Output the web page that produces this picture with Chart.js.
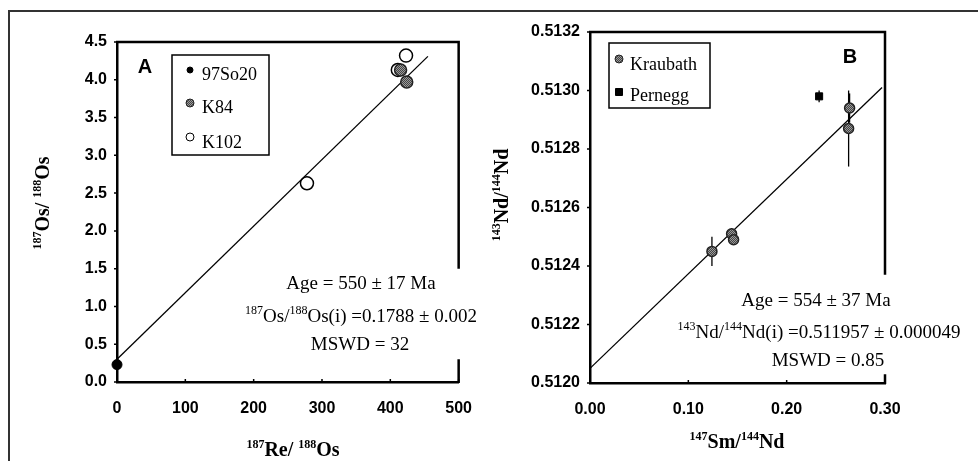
<!DOCTYPE html>
<html>
<head>
<meta charset="utf-8">
<script src="https://cdn.jsdelivr.net/npm/chart.js@4.4.1/dist/chart.umd.min.js"></script>
<style>
  html, body { margin: 0; padding: 0; background: #fff; }
  #wrap { position: relative; width: 978px; height: 461px; overflow: hidden; }
  #frame { position: absolute; left: 8px; top: 10px; width: 1000px; height: 500px;
           border-left: 2px solid #333; border-top: 2px solid #333; }
  #ca { position: absolute; left: 0; top: 0; }
  #cb { position: absolute; left: 489px; top: 0; }
</style>
</head>
<body>
<div id="wrap">
  <div id="frame"></div>
  <canvas id="ca" width="489" height="461"></canvas>
  <canvas id="cb" width="489" height="461"></canvas>
</div>
<script>
// ---- panel A : Re-Os ----
var so20X = [0];
var so20Y = [0.23];
var k84X = [415, 424];
var k84Y = [4.13, 3.97];
var k102X = [278, 411, 423];
var k102Y = [2.63, 4.13, 4.32];
var fitAX = [0, 455];
var fitAY = [0.30, 4.31];
var ticksAX = [0, 100, 200, 300, 400, 500];
var ticksAY = [0, 0.5, 1, 1.5, 2, 2.5, 3, 3.5, 4, 4.5];

// ---- panel B : Sm-Nd ----
var kraubathX = [0.124, 0.144, 0.146, 0.264, 0.263];
var kraubathY = [0.51245, 0.51251, 0.51249, 0.51294, 0.51287];
var kraubathErr = [0.00005, 0.00002, 0.00001, 0.00005, 0.00013];
var perneggX = [0.233];
var perneggY = [0.51298];
var perneggErr = [0.00002];
var fitBX = [0, 0.297];
var fitBY = [0.51205, 0.51301];
var ticksBX = [0, 0.1, 0.2, 0.3];
var ticksBY = [0.512, 0.5122, 0.5124, 0.5126, 0.5128, 0.513, 0.5132];

var SERIF = '"Liberation Serif", "Times New Roman", serif';
var SANS = '"Liberation Sans", Arial, sans-serif';

function pts(xs, ys) {
  return xs.map(function (x, i) { return { x: x, y: ys[i] }; });
}

function hatch(ctx) {
  var c = document.createElement('canvas');
  c.width = 2; c.height = 2;
  var g = c.getContext('2d');
  g.fillStyle = '#9a9a9a'; g.fillRect(0, 0, 2, 2);
  g.fillStyle = '#444'; g.fillRect(0, 0, 1, 1); g.fillRect(1, 1, 1, 1);
  return ctx.createPattern(c, 'repeat');
}

// parts beginning with '^' are superscripts
function richText(ctx, parts, x, y, size, weight, align) {
  var widths = parts.map(function (p) {
    var sup = p.charAt(0) === '^';
    ctx.font = weight + ' ' + (sup ? Math.round(size * 0.62) : size) + 'px ' + SERIF;
    return ctx.measureText(sup ? p.slice(1) : p).width;
  });
  var total = widths.reduce(function (a, b) { return a + b; }, 0);
  var cx = align === 'center' ? x - total / 2 : x;
  ctx.textAlign = 'left';
  ctx.textBaseline = 'alphabetic';
  parts.forEach(function (p, i) {
    var sup = p.charAt(0) === '^';
    ctx.font = weight + ' ' + (sup ? Math.round(size * 0.62) : size) + 'px ' + SERIF;
    ctx.fillText(sup ? p.slice(1) : p, cx, sup ? y - size * 0.4 : y);
    cx += widths[i];
  });
}

var deco = {
  id: 'deco',
  beforeDatasetsDraw: function (chart, args, o) {
    var ctx = chart.ctx, xs = chart.scales.x, ys = chart.scales.y;
    ctx.save();
    ctx.strokeStyle = '#000';
    ctx.lineWidth = 1.3;
    (o.errors || []).forEach(function (e) {
      e.x.forEach(function (xv, i) {
        var px = xs.getPixelForValue(xv);
        ctx.beginPath();
        ctx.moveTo(px, ys.getPixelForValue(e.y[i] - e.err[i]));
        ctx.lineTo(px, ys.getPixelForValue(e.y[i] + e.err[i]));
        ctx.stroke();
      });
    });
    ctx.restore();
  },
  afterDraw: function (chart, args, o) {
    var ctx = chart.ctx, a = chart.chartArea, xs = chart.scales.x, ys = chart.scales.y;
    ctx.save();
    ctx.strokeStyle = '#000';
    ctx.fillStyle = '#000';
    // top and right frame of the plot, right side broken behind the text
    ctx.lineWidth = 2.5;
    ctx.beginPath();
    ctx.moveTo(a.left - 1, a.top);
    ctx.lineTo(a.right, a.top);
    ctx.lineTo(a.right, ys.getPixelForValue(o.gap[0]));
    ctx.moveTo(a.right, ys.getPixelForValue(o.gap[1]));
    ctx.lineTo(a.right, a.bottom + 1);
    ctx.stroke();
    // small tick marks
    ctx.lineWidth = 1.5;
    ctx.beginPath();
    ys.ticks.forEach(function (t) {
      var py = ys.getPixelForValue(t.value);
      ctx.moveTo(a.left - 3, py); ctx.lineTo(a.left + 1, py);
    });
    xs.ticks.forEach(function (t) {
      var px = xs.getPixelForValue(t.value);
      ctx.moveTo(px, a.bottom); ctx.lineTo(px, a.bottom - 3);
    });
    ctx.stroke();

    // panel letter
    ctx.font = 'bold 20px ' + SANS;
    ctx.textAlign = 'center';
    ctx.textBaseline = 'alphabetic';
    ctx.fillText(o.letter.t, o.letter.x, o.letter.y);

    // legend
    var L = o.legend;
    ctx.lineWidth = 1.5;
    ctx.strokeRect(L.box[0], L.box[1], L.box[2], L.box[3]);
    L.items.forEach(function (it) {
      var ds = chart.data.datasets[it.ds];
      ctx.save();
      ctx.fillStyle = ds.pointBackgroundColor;
      ctx.strokeStyle = ds.pointBorderColor;
      ctx.lineWidth = 1;
      ctx.beginPath();
      if (ds.pointStyle === 'rect') {
        ctx.rect(L.mx - 3.5, it.my - 3.5, 7, 7);
      } else {
        ctx.arc(L.mx, it.my, it.r, 0, Math.PI * 2);
      }
      ctx.fill();
      ctx.stroke();
      ctx.restore();
      ctx.font = '18px ' + SERIF;
      ctx.textAlign = 'left';
      ctx.fillText(ds.label, L.tx, it.ty);
    });

    // fit statistics
    o.notes.forEach(function (n) {
      richText(ctx, n.parts, n.x, n.y, 19, 'normal', 'center');
    });

    // axis titles
    richText(ctx, o.xTitle.parts, o.xTitle.x, o.xTitle.y, 20, 'bold', 'center');
    ctx.translate(o.yTitle.x, o.yTitle.y);
    ctx.rotate(-Math.PI / 2);
    richText(ctx, o.yTitle.parts, 0, 0, 20, 'bold', 'center');
    ctx.restore();
  }
};

function axis(min, max, ticks, size, pad, digits, horizontal) {
  return {
    type: 'linear', min: min, max: max,
    afterBuildTicks: function (s) { s.ticks = ticks.map(function (v) { return { value: v }; }); },
    afterFit: function (s) { if (horizontal) { s.height = size; } else { s.width = size; } },
    grid: { display: false, drawTicks: false },
    border: { display: true, color: '#000', width: 2.5 },
    ticks: {
      padding: pad, color: '#000', autoSkip: false, maxRotation: 0,
      font: { family: SANS, weight: 'bold', size: 16 },
      callback: function (v) { return Number(v).toFixed(digits); }
    }
  };
}

var ctxA = document.getElementById('ca').getContext('2d');
var patA = hatch(ctxA);
new Chart(ctxA, {
  type: 'scatter',
  data: {
    datasets: [
      { type: 'line', label: 'fit', data: pts(fitAX, fitAY), showLine: true, pointRadius: 0,
        borderColor: '#000', borderWidth: 1.3, order: 10, clip: false },
      { label: '97So20', data: pts(so20X, so20Y), pointRadius: 5,
        pointBackgroundColor: '#000', pointBorderColor: '#000', clip: false },
      { label: 'K84', data: pts(k84X, k84Y), pointRadius: 6, pointBorderWidth: 1.5,
        pointBackgroundColor: patA, pointBorderColor: '#222', clip: false },
      { label: 'K102', data: pts(k102X, k102Y), pointRadius: 6.5, pointBorderWidth: 1.5,
        pointBackgroundColor: 'rgba(255,255,255,0)', pointBorderColor: '#000', clip: false }
    ]
  },
  options: {
    responsive: false, animation: false,
    layout: { padding: { left: 0, right: 19, top: 42, bottom: 0 } },
    scales: {
      x: axis(0, 500, ticksAX, 79, 17, 0, true),
      y: axis(0, 4.5, ticksAY, 117, 10, 1, false)
    },
    plugins: {
      legend: { display: false },
      tooltip: { enabled: false },
      deco: {
        gap: [1.5, 0.3],
        letter: { t: 'A', x: 145, y: 73 },
        legend: { box: [172, 55, 97, 100], mx: 190, tx: 202,
          items: [{ ds: 1, my: 70, ty: 80, r: 3 }, { ds: 2, my: 103, ty: 113, r: 4 }, { ds: 3, my: 137, ty: 148, r: 4 }] },
        notes: [
          { parts: ['Age = 550 \u00b1 17 Ma'], x: 361, y: 289 },
          { parts: ['^187', 'Os/', '^188', 'Os(i) =0.1788 \u00b1 0.002'], x: 361, y: 322 },
          { parts: ['MSWD = 32'], x: 360, y: 350 }
        ],
        xTitle: { parts: ['^187', 'Re/ ', '^188', 'Os'], x: 293, y: 456 },
        yTitle: { parts: ['^187', 'Os/ ', '^188', 'Os'], x: 49, y: 203 }
      }
    }
  },
  plugins: [deco]
});

var ctxB = document.getElementById('cb').getContext('2d');
var patB = hatch(ctxB);
new Chart(ctxB, {
  type: 'scatter',
  data: {
    datasets: [
      { type: 'line', label: 'fit', data: pts(fitBX, fitBY), showLine: true, pointRadius: 0,
        borderColor: '#000', borderWidth: 1.3, order: 10, clip: false },
      { label: 'Kraubath', data: pts(kraubathX, kraubathY), pointRadius: 5, pointBorderWidth: 1.5,
        pointBackgroundColor: patB, pointBorderColor: '#222', clip: false },
      { label: 'Pernegg', data: pts(perneggX, perneggY), pointStyle: 'rect', pointRadius: 5,
        pointBackgroundColor: '#000', pointBorderColor: '#000', clip: false }
    ]
  },
  options: {
    responsive: false, animation: false,
    layout: { padding: { left: 0, right: 93, top: 32, bottom: 0 } },
    scales: {
      x: axis(0, 0.3, ticksBX, 78, 17, 2, true),
      y: axis(0.512, 0.5132, ticksBY, 101, 10, 4, false)
    },
    plugins: {
      legend: { display: false },
      tooltip: { enabled: false },
      deco: {
        gap: [0.51237, 0.51203],
        errors: [
          { x: kraubathX, y: kraubathY, err: kraubathErr },
          { x: perneggX, y: perneggY, err: perneggErr }
        ],
        letter: { t: 'B', x: 361, y: 63 },
        legend: { box: [120, 43, 101, 65], mx: 130, tx: 141,
          items: [{ ds: 1, my: 59, ty: 70, r: 4 }, { ds: 2, my: 92, ty: 101, r: 4 }] },
        notes: [
          { parts: ['Age = 554 \u00b1 37 Ma'], x: 327, y: 306 },
          { parts: ['^143', 'Nd/', '^144', 'Nd(i) =0.511957 \u00b1 0.000049'], x: 330, y: 338 },
          { parts: ['MSWD = 0.85'], x: 339, y: 366 }
        ],
        xTitle: { parts: ['^147', 'Sm/', '^144', 'Nd'], x: 248, y: 448 },
        yTitle: { parts: ['^143', 'Nd/', '^144', 'Nd'], x: 19, y: 195 }
      }
    }
  },
  plugins: [deco]
});
</script>
</body>
</html>
